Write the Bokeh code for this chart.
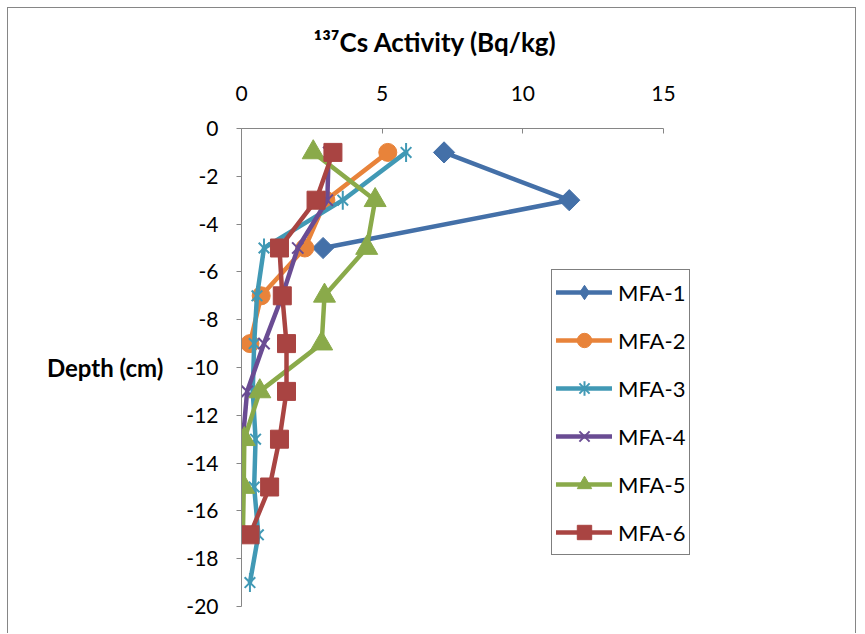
from bokeh.plotting import figure
from bokeh.models import Range1d, FixedTicker, Legend, LegendItem, ColumnDataSource, Title
from bokeh.embed import file_html
from bokeh.resources import INLINE
import math

# ---- data ----
depth = [-1, -3, -5, -7, -9, -11, -13, -15, -17, -19]
mfa1 = [7.2, 11.65, 2.9]
mfa2 = [5.2, 3.0, 2.25, 0.7, 0.3]
mfa3 = [5.85, 3.6, 0.8, 0.55, 0.45, 0.4, 0.5, 0.45, 0.6, 0.3]
mfa4 = [3.1, 3.05, 2.0, 1.45, 0.8, 0.2, 0.05]
mfa5 = [2.55, 4.75, 4.45, 2.95, 2.85, 0.65, 0.1, 0.08, 0.05]
mfa6 = [3.25, 2.65, 1.35, 1.45, 1.6, 1.6, 1.35, 1.0, 0.3]
names = ["MFA-1", "MFA-2", "MFA-3", "MFA-4", "MFA-5", "MFA-6"]
title_text = "\u00b9\u00b3\u2077Cs Activity (Bq/kg)"
x_ticks = [0, 5, 10, 15]
y_ticks = list(range(-20, 1, 2))

FONT = "Lato"

# frame: 479 px wide for 0..17.03 so that 0..15 covers 422 px (legend overhangs the axis end)
p = figure(width=849, height=626, x_range=Range1d(0, 15 * 479 / 422), y_range=Range1d(-20, 0),
           x_axis_location="above", output_backend="svg", toolbar_location=None,
           min_border_left=233, min_border_top=120, min_border_right=137,
           min_border_bottom=28)
p.grid.visible = False
p.outline_line_color = None
p.background_fill_color = "white"
p.border_fill_color = "white"
p.styles = {"border-left": "1px solid #868686", "border-top": "1px solid #868686",
            "border-right": "1px solid #868686", "margin-left": "7px", "margin-top": "7px"}

# spacer between the top axis labels and the title, then the title itself
p.add_layout(Title(text=" ", text_font_size="1px", standoff=22), "above")
p.add_layout(Title(text=title_text, text_font=FONT, text_font_size="26px",
                   text_font_style="bold", text_color="black", align="left",
                   offset=72, standoff=0), "above")

xa = p.xaxis[0]
xa.ticker = FixedTicker(ticks=x_ticks)
xa.bounds = (0, 15)
xa.axis_line_color = "#868686"
xa.major_tick_line_color = "#868686"
xa.major_tick_in = 5
xa.major_tick_out = 0
xa.minor_tick_line_color = None
xa.major_label_text_font = FONT
xa.major_label_text_font_size = "21px"
xa.major_label_text_color = "black"
xa.major_label_standoff = 28

ya = p.yaxis[0]
ya.ticker = FixedTicker(ticks=y_ticks)
ya.major_label_overrides = {t: str(t) for t in y_ticks}
ya.axis_line_color = "#868686"
ya.major_tick_line_color = "#868686"
ya.major_tick_in = 0
ya.major_tick_out = 5
ya.minor_tick_line_color = None
ya.major_label_text_font = FONT
ya.major_label_text_font_size = "21px"
ya.major_label_text_color = "black"
ya.major_label_standoff = 18
ya.axis_label = "Depth (cm)"
ya.axis_label_text_font = FONT
ya.axis_label_text_font_size = "24px"
ya.axis_label_text_font_style = "bold"
ya.axis_label_text_color = "black"
ya.axis_label_orientation = "horizontal"
ya.axis_label_standoff = 20

colors = ["#4470A8", "#E8833A", "#4199B5", "#6A4C93", "#8AAA4A", "#A94442"]
series = [mfa1, mfa2, mfa3, mfa4, mfa5, mfa6]
LW = 4.5

items = []
for i, (name, vals, col) in enumerate(zip(names, series, colors)):
    d = depth[:len(vals)]
    src = ColumnDataSource(dict(x=vals, y=d))
    r_line = p.line("x", "y", source=src, line_color=col, line_width=LW,
                    line_join="round", line_cap="round")
    legend_rs = [r_line]
    if i == 0:
        # narrow diamond (legend symbol) drawn underneath the wide diamond
        legend_rs.append(p.scatter("x", "y", source=src, marker="diamond", size=17,
                                   fill_color=col, line_color=col))
        p.scatter("x", "y", source=src, marker="square", size=15, angle=math.pi / 4,
                  fill_color=col, line_color=col)
    elif i == 1:
        legend_rs.append(p.scatter("x", "y", source=src, marker="circle", size=18,
                                   fill_color=col, line_color=col))
    elif i == 2:
        p.scatter("x", "y", source=src, marker="x", size=15, line_color=col, line_width=2)
        p.scatter("x", "y", source=src, marker="dash", size=19, angle=math.pi / 2,
                  line_color=col, line_width=2)
        proxy = ColumnDataSource(dict(x=[float("nan")], y=[float("nan")]))
        legend_rs.append(p.scatter("x", "y", source=proxy, marker="asterisk", size=18,
                                   line_color=col, line_width=2))
    elif i == 3:
        legend_rs.append(p.scatter("x", "y", source=src, marker="x", size=16,
                                   line_color=col, line_width=2))
    elif i == 4:
        legend_rs.append(p.scatter("x", "y", source=src, marker="triangle", size=22,
                                   fill_color=col, line_color=col))
    else:
        legend_rs.append(p.scatter("x", "y", source=src, marker="square", size=18,
                                   fill_color=col, line_color=col))
    items.append(LegendItem(label=name, renderers=legend_rs))

legend = Legend(items=items, location=(310, 51))
legend.border_line_color = "black"
legend.border_line_width = 1
legend.background_fill_color = "white"
legend.background_fill_alpha = 1
legend.label_text_font = FONT
legend.label_text_font_size = "22px"
legend.label_text_color = "black"
legend.glyph_width = 56
legend.glyph_height = 36
legend.label_height = 29
legend.spacing = 12
legend.padding = 4
legend.margin = 0
legend.label_standoff = 6
p.add_layout(legend)

open("out.html", "w").write(file_html(p, INLINE))
